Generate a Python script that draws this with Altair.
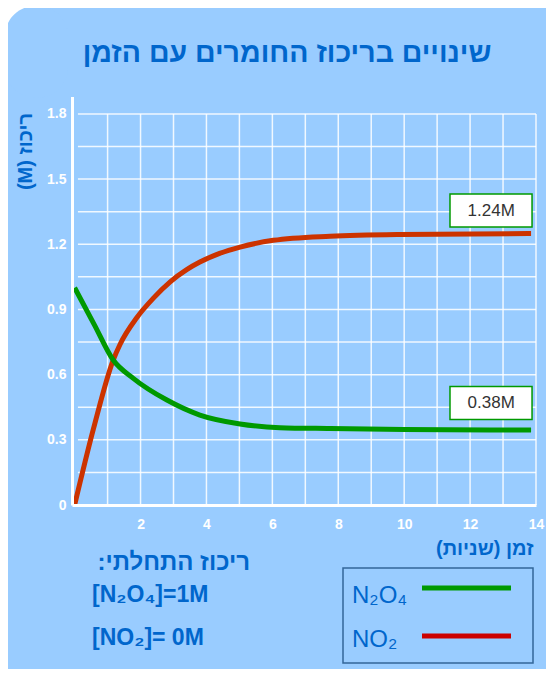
import altair as alt
import pandas as pd

# ---- data ----
t_no2 = [0, 0.57, 1.17, 1.38, 1.885, 2.39, 2.9, 3.4, 3.8, 4.4, 5.02, 6.03, 7.75, 9.88, 13.85]
c_no2 = [0.0, 0.35, 0.667, 0.74, 0.862, 0.952, 1.027, 1.083, 1.118, 1.158, 1.187, 1.218, 1.237, 1.245, 1.249]
t_n2o4 = [0, 0.6, 1.17, 1.78, 2.8, 3.8, 5.02, 6.23, 7.75, 10.0, 13.85]
c_n2o4 = [1.0, 0.829, 0.667, 0.583, 0.483, 0.414, 0.373, 0.356, 0.352, 0.348, 0.345]

y_ticks = [0, 0.3, 0.6, 0.9, 1.2, 1.5, 1.8]
x_ticks = [2, 4, 6, 8, 10, 12, 14]
grid_y = [0.15, 0.3, 0.45, 0.6, 0.75, 0.9, 1.05, 1.2, 1.35, 1.5, 1.65, 1.8]
grid_x = [1, 2, 3, 4, 5, 6, 7, 8, 9, 10, 11, 12, 13, 14]

eq_labels = ["1.24M", "0.38M"]
eq_label_c = [1.355, 0.469]

TITLE = "\u200fשינויים בריכוז החומרים עם הזמן\u200f"
Y_TITLE = "(M) ריכוז"
X_TITLE = "\u200fזמן (שניות)\u200f"
INIT_TITLE = "\u200fריכוז  התחלתי:\u200f"
INIT_1 = "[N\u2082O\u2084]=1M"
INIT_2 = "[NO\u2082]= 0M"
LEG_1 = "N\u2082O\u2084"
LEG_2 = "NO\u2082"

# ---- styles ----
FONT = "Liberation Sans, Arial, DejaVu Sans, sans-serif"
BG = "#99ccff"
BLUE = "#0066cc"
RED = "#cc3300"
GREEN = "#009900"
W, H = 464, 408.5

xs = alt.Scale(domain=[-0.08, 14], nice=False, zero=False)
ys = alt.Scale(domain=[0, 1.88], nice=False, zero=False)

xaxis = alt.Axis(values=x_ticks, title=X_TITLE, grid=False, ticks=False, domain=True,
                 domainColor="white", domainWidth=3, labelColor="white", labelFont=FONT,
                 labelFontSize=14, labelFontWeight="bold", labelPadding=12, labelFlush=False,
                 titleColor=BLUE, titleFont=FONT, titleFontSize=20, titleFontWeight="bold",
                 titleX=461, titleY=43, titleAlign="right", titleBaseline="middle",
                 titleAnchor="end", zindex=1)
yaxis = alt.Axis(values=y_ticks, format="~g", title=Y_TITLE, grid=False, ticks=False,
                 domain=True, domainColor="white", domainWidth=3, labelColor="white",
                 labelFont=FONT, labelFontSize=14, labelFontWeight="bold", labelPadding=6,
                 titleColor=BLUE, titleFont=FONT, titleFontSize=20, titleFontWeight="bold",
                 titleAngle=270, titleX=-47, titleY=54.5, titleAlign="center",
                 titleBaseline="middle", zindex=1)

X = alt.X("t:Q", scale=xs, axis=xaxis)
Y = alt.Y("c:Q", scale=ys, axis=yaxis)

df_lines = pd.concat([
    pd.DataFrame({"t": t_no2, "c": c_no2, "s": "NO2"}),
    pd.DataFrame({"t": t_n2o4, "c": c_n2o4, "s": "N2O4"}),
])

one = alt.Data(values=[{}])

corner_white = alt.Chart(one).mark_rect(color="white").encode(
    x=alt.value(-64), x2=alt.value(-29), y=alt.value(-88.5), y2=alt.value(-53.5))
corner_blue = alt.Chart(one).mark_rect(color=BG, cornerRadius=30).encode(
    x=alt.value(-67), x2=alt.value(-4), y=alt.value(-90.5), y2=alt.value(1))

hgrid = alt.Chart(pd.DataFrame({"c": grid_y})).mark_rule(
    color="white", strokeWidth=1.5, opacity=0.85).encode(
    y=Y, x=alt.datum(0.1, scale=xs), x2=alt.datum(14))
vgrid = alt.Chart(pd.DataFrame({"t": grid_x})).mark_rule(
    color="white", strokeWidth=1.5, opacity=0.85).encode(
    x=X, y=alt.datum(0, scale=ys), y2=alt.datum(1.8))

lines = alt.Chart(df_lines).mark_line(strokeWidth=5, interpolate="monotone").encode(
    x=X, y=Y,
    color=alt.Color("s:N", scale=alt.Scale(domain=["NO2", "N2O4"], range=[RED, GREEN]), legend=None),
    detail="s:N")

df_box = pd.DataFrame({"label": eq_labels, "c": eq_label_c})
boxes = alt.Chart(df_box).transform_calculate(
    t="11.39", t2="13.88", cy="datum.c + 0.076", c0="datum.c - 0.076").mark_rect(
    fill="white", stroke=GREEN, strokeWidth=1.5).encode(
    x=alt.X("t:Q", scale=xs, axis=xaxis), x2="t2:Q",
    y=alt.Y("c0:Q", scale=ys, axis=yaxis), y2="cy:Q")
box_text = alt.Chart(df_box).transform_calculate(t="12.64").mark_text(
    font=FONT, fontSize=17, color="#333333", baseline="middle", align="center").encode(
    x=X, y=Y, text="label:N")

def txt(text, x, y, size, weight="bold", align="left", color=BLUE):
    return alt.Chart(one).mark_text(text=text, font=FONT, fontSize=size, fontWeight=weight,
                                    align=align, baseline="middle", color=color).encode(
        x=alt.value(x), y=alt.value(y))

title = txt(TITLE, 215, -44, 28.5, align="center")
init_t = txt(INIT_TITLE, 178, 466, 24, align="right")
init_1 = txt(INIT_1, 20, 498.5, 23)
init_2 = txt(INIT_2, 20, 541.5, 23)
leg_1 = txt(LEG_1, 280, 499.5, 24, weight="normal")
leg_2 = txt(LEG_2, 280, 543.5, 24, weight="normal")

leg_box = alt.Chart(one).mark_rect(fill=None, stroke="#336699", strokeWidth=1.5).encode(
    x=alt.value(271), x2=alt.value(461), y=alt.value(471.5), y2=alt.value(566.5))
leg_green = alt.Chart(one).mark_rule(color=GREEN, strokeWidth=5).encode(
    x=alt.value(350), x2=alt.value(439), y=alt.value(491.5))
leg_red = alt.Chart(one).mark_rule(color="#cc0000", strokeWidth=5).encode(
    x=alt.value(350), x2=alt.value(439), y=alt.value(539.5))

chart = alt.layer(
    corner_white, corner_blue, hgrid, vgrid, lines, boxes, box_text,
    title, init_t, init_1, init_2, leg_box, leg_green, leg_red, leg_1, leg_2
).properties(
    width=W, height=H,
    padding={"left": 64, "top": 88.5, "right": 10, "bottom": 164},
    autosize=alt.AutoSizeParams(type="none"),
).configure(background=BG).configure_view(stroke=None, fill=None)

chart.save("out.html", embed_options={"renderer": "svg", "actions": False})
